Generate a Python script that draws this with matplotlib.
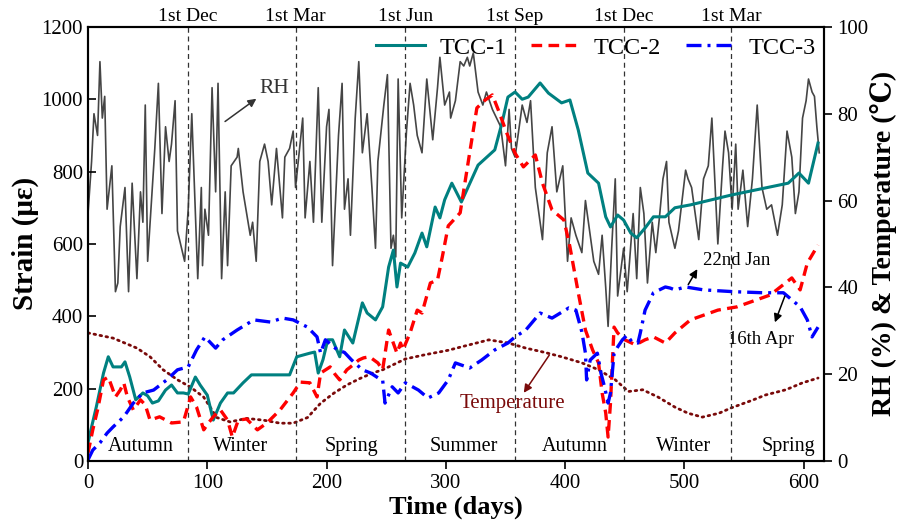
import matplotlib
matplotlib.use("Agg")
import matplotlib.pyplot as plt
import matplotlib.transforms as mtransforms

plt.rcParams['font.family'] = ['Liberation Serif', 'DejaVu Serif']
plt.rcParams['mathtext.fontset'] = 'stix'

# Strain readings (micro-strain) for the three specimens
t1_day = [0, 3, 7, 13, 17, 21, 28, 31, 35, 40, 46, 50, 54, 59, 65, 70, 75, 80, 84, 90,
          94, 100, 105, 111, 117, 122, 130, 137, 169, 175, 186, 190, 193, 197, 201, 205,
          211, 215, 222, 230, 234, 241, 247, 252, 256, 259, 262, 268, 274, 280, 284, 291,
          295, 299, 305, 313, 327, 341, 347, 352, 358, 364, 369, 379, 386, 397, 404, 411,
          419, 428, 434, 438, 444, 449, 455, 460, 467, 474, 484, 492, 505, 539, 587, 596,
          604, 612]
t1_val = [50, 94, 150, 243, 288, 260, 260, 274, 232, 169, 188, 180, 160, 166, 196, 210,
          188, 188, 185, 232, 210, 182, 113, 160, 188, 188, 216, 238, 238, 288, 298, 301,
          243, 280, 335, 335, 288, 362, 326, 437, 409, 390, 426, 536, 583, 481, 547, 536,
          575, 630, 592, 702, 672, 722, 768, 716, 818, 860, 934, 1006, 1020, 1000, 1006,
          1045, 1017, 990, 998, 915, 796, 768, 675, 647, 680, 666, 630, 617, 644, 675, 675,
          700, 708, 735, 768, 796, 768, 879]

t2_day = [0, 4, 8, 13, 17, 20, 23, 27, 30, 33, 38, 44, 48, 52, 60, 70, 80, 86, 91, 97,
          101, 105, 111, 117, 121, 126, 133, 142, 150, 161, 172, 178, 186, 192, 195, 203,
          207, 211, 217, 222, 227, 231, 236, 243, 247, 252, 259, 262, 264, 270, 276, 280,
          287, 293, 297, 302, 307, 312, 319, 326, 333, 339, 344, 351, 358, 365, 375, 381,
          389, 399, 404, 411, 417, 423, 428, 431, 434, 436, 438, 441, 444, 450, 459, 467,
          474, 484, 492, 505, 528, 544, 572, 590, 597, 603, 612]
t2_val = [22, 86, 141, 224, 232, 205, 177, 196, 216, 177, 141, 169, 155, 113, 122, 105,
          108, 177, 149, 86, 105, 122, 141, 113, 66, 113, 116, 86, 105, 141, 188, 218, 216,
          177, 243, 260, 240, 224, 252, 265, 279, 285, 288, 271, 252, 362, 298, 326, 307,
          354, 417, 409, 492, 500, 564, 650, 668, 686, 832, 976, 998, 1012, 970, 907, 851,
          813, 846, 768, 694, 666, 592, 465, 362, 307, 271, 188, 133, 66, 160, 370, 354,
          335, 321, 335, 343, 326, 354, 390, 417, 426, 459, 506, 473, 547, 597]

t3_day = [0, 4, 10, 16, 21, 30, 38, 46, 55, 66, 75, 84, 91, 98, 107, 113, 125, 139, 153,
          163, 172, 184, 192, 195, 199, 209, 215, 221, 230, 237, 243, 247, 249, 255, 260,
          266, 277, 285, 294, 302, 308, 320, 330, 341, 352, 358, 367, 379, 389, 403, 409,
          414, 417, 418, 421, 427, 430, 433, 436, 438, 441, 444, 448, 452, 456, 461, 463,
          467, 474, 484, 488, 492, 501, 516, 541, 566, 583, 597, 603, 607, 612]
t3_val = [3, 30, 50, 77, 94, 122, 160, 188, 196, 224, 252, 260, 307, 343, 312, 335, 362,
          390, 384, 395, 390, 370, 343, 298, 335, 307, 300, 279, 252, 243, 230, 224, 160,
          205, 188, 216, 196, 174, 188, 224, 271, 257, 279, 307, 326, 343, 362, 409, 395,
          423, 417, 357, 298, 224, 279, 298, 243, 205, 160, 188, 298, 315, 335, 348, 329,
          326, 354, 417, 465, 481, 478, 473, 481, 473, 468, 465, 465, 426, 390, 343, 370]

# Ambient temperature (deg C)
tp_day = [0, 21, 41, 52, 63, 75, 86, 97, 108, 119, 133, 147, 161, 172, 184, 195, 206, 217,
          228, 239, 247, 266, 283, 302, 316, 336, 352, 367, 383, 397, 414, 428, 442, 453,
          465, 478, 492, 503, 515, 529, 539, 557, 568, 585, 599, 612]
tp_val = [29.5, 28.3, 26, 24, 21, 18.7, 17, 14.7, 10, 9, 9.8, 9.4, 8.7, 8.7, 10, 13.3,
          15.6, 17.5, 19, 20.3, 21, 23.5, 24.5, 25.5, 26.5, 27.9, 27.2, 26, 25, 24, 22.6,
          21, 18.7, 16, 16.4, 14.7, 12.4, 11, 10.1, 11, 12.2, 14, 15.2, 16.4, 18, 19.1]

# Relative humidity (%)
rh_day = [0, 3, 5, 8, 10, 12, 14, 16, 20, 23, 25, 27, 31, 34, 37, 41, 44, 46, 48, 50,
          56, 59, 62, 65, 68, 70, 73, 75, 81, 84, 87, 89, 92, 95, 96, 98, 101, 104, 107,
          109, 112, 115, 117, 120, 125, 126, 130, 133, 136, 138, 141, 144, 148, 151, 154,
          158, 163, 165, 169, 172, 174, 180, 182, 186, 189, 193, 196, 200, 202, 205, 210,
          213, 215, 218, 220, 224, 227, 230, 234, 238, 241, 243, 248, 251, 254, 256, 258,
          260, 263, 267, 270, 273, 276, 280, 284, 289, 293, 295, 299, 303, 304, 308, 312,
          315, 318, 320, 323, 327, 331, 334, 339, 346, 350, 353, 355, 358, 361, 364, 368,
          371, 375, 381, 385, 389, 393, 398, 402, 405, 409, 414, 417, 421, 424, 428, 431,
          434, 436, 439, 442, 444, 449, 452, 454, 457, 460, 463, 466, 469, 473, 476, 479,
          482, 485, 487, 492, 495, 501, 503, 506, 512, 516, 520, 523, 528, 532, 534, 537,
          540, 543, 545, 549, 553, 557, 561, 565, 569, 573, 578, 582, 586, 590, 593, 596,
          599, 602, 604, 607, 609, 611, 613]
rh_val = [57, 69, 80, 75, 92, 79, 84, 58, 68, 39, 41, 54, 63, 39, 64, 42, 62, 55, 82, 46,
          72, 87, 57, 77, 69, 73, 83, 53, 46, 58, 80, 65, 42, 63, 45, 58, 52, 86, 62, 87,
          42, 62, 45, 68, 70, 72, 62, 57, 52, 55, 46, 69, 73, 69, 59, 72, 56, 70, 72, 76,
          63, 79, 56, 69, 55, 86, 55, 77, 81, 45, 75, 87, 58, 65, 52, 79, 92, 71, 80, 63,
          49, 69, 82, 89, 49, 52, 47, 88, 56, 76, 87, 82, 75, 71, 88, 74, 86, 93, 82, 85,
          79, 83, 92, 91, 93, 91, 94, 85, 82, 85, 81, 77, 68, 81, 72, 70, 76, 82, 78, 83,
          63, 51, 71, 77, 62, 68, 46, 56, 52, 48, 60, 52, 46, 43, 52, 40, 31, 49, 65, 38,
          49, 39, 46, 57, 42, 63, 57, 41, 55, 48, 56, 65, 69, 55, 49, 53, 67, 65, 63, 51,
          65, 68, 79, 50, 68, 76, 71, 58, 73, 58, 67, 54, 65, 82, 63, 58, 59, 52, 59, 76,
          70, 57, 62, 79, 83, 88, 85, 84, 77, 71]

month_days = [84, 174, 266, 358, 449, 539]
month_labels = ['1st Dec', '1st Mar', '1st Jun', '1st Sep', '1st Dec', '1st Mar']
season_days = [44, 128, 221, 315, 408, 499, 587]
season_labels = ['Autumn', 'Winter', 'Spring', 'Summer', 'Autumn', 'Winter', 'Spring']

fig = plt.figure(figsize=(8.98, 5.28), dpi=100)
ax = fig.add_axes([0.098, 0.127, 0.8196, 0.822])
ax2 = ax.twinx()
ax.set_zorder(ax2.get_zorder() + 1)
ax.patch.set_visible(False)

# right axis: humidity and temperature
ax2.plot(rh_day, rh_val, color='#454545', lw=1.2)
ax2.plot(tp_day, tp_val, color='#7a0a0a', lw=2.0, linestyle=(0, (0.6, 1.6)),
         dash_capstyle='round')

# left axis: strain
ax.plot(t1_day, t1_val, color='#008080', lw=2.2, label='TCC-1')
ax.plot(t2_day, t2_val, color='#ff0000', lw=2.4, linestyle=(0, (3.2, 1.9)), label='TCC-2')
ax.plot(t3_day, t3_val, color='#0000ff', lw=2.4, linestyle=(0, (4.5, 1.8, 0.9, 1.8)),
        label='TCC-3')

for d in month_days:
    ax.axvline(d, color='#333333', lw=0.9, linestyle=(0, (4, 3)), zorder=0)

trans = mtransforms.blended_transform_factory(ax.transData, ax.transAxes)
for d, lab in zip(month_days, month_labels):
    ax.text(d, 1.024, lab, transform=trans, ha='center', va='center', fontsize=14)
for d, lab in zip(season_days, season_labels):
    ax.text(d, 40, lab, ha='center', va='center', fontsize=14.5)

ax.set_xlim(0, 617)
ax.set_ylim(0, 1200)
ax2.set_ylim(0, 100)
ax.set_xticks(range(0, 601, 100))
ax.set_yticks(range(0, 1201, 200))
ax2.set_yticks(range(0, 101, 20))

ax.tick_params(axis='y', direction='in', length=6, width=1.2, labelsize=15)
ax.tick_params(axis='x', direction='out', length=6, width=1.2, labelsize=15)
ax.tick_params(axis='x', which='both', top=False)
ax2.tick_params(axis='y', direction='out', length=6, width=1.2, labelsize=15)
for a in (ax, ax2):
    for s in a.spines.values():
        s.set_linewidth(1.5)

ax.set_xlabel('Time (days)', fontsize=19, fontweight='bold', labelpad=2)
ax.set_ylabel('Strain (με)', fontsize=21, fontweight='bold', labelpad=2)
ax2.set_ylabel('RH (%) & Temperature (℃)', fontsize=20, fontweight='bold', labelpad=1)

# annotations
ax.annotate('', xy=(143, 1006), xytext=(113, 934),
            arrowprops=dict(arrowstyle='-|>', color='#333333', lw=1.1, mutation_scale=12))
ax.text(156, 1031, 'RH', fontsize=15.5, color='#333333', ha='center', va='center')
ax.annotate('', xy=(364, 182), xytext=(388, 299),
            arrowprops=dict(arrowstyle='-|>', color='#7a0a0a', lw=1.1, mutation_scale=12))
ax.text(356, 160, 'Temperature', fontsize=15, color='#7a0a0a', ha='center', va='center')
ax.annotate('', xy=(512, 537), xytext=(502, 481),
            arrowprops=dict(arrowstyle='-|>', color='black', lw=1.1, mutation_scale=12))
ax.text(544, 555, '22nd Jan', fontsize=13.5, ha='center', va='center')
ax.annotate('', xy=(575, 376), xytext=(585, 463),
            arrowprops=dict(arrowstyle='-|>', color='black', lw=1.1, mutation_scale=12))
ax.text(564, 335, '16th Apr', fontsize=13.5, ha='center', va='center')

ax.legend(loc='upper right', bbox_to_anchor=(1.019, 1.028), ncol=3, frameon=False,
          fontsize=17.5, handlelength=2.0, handletextpad=0.6, columnspacing=1.0)

fig.savefig('out.png', dpi=100)
